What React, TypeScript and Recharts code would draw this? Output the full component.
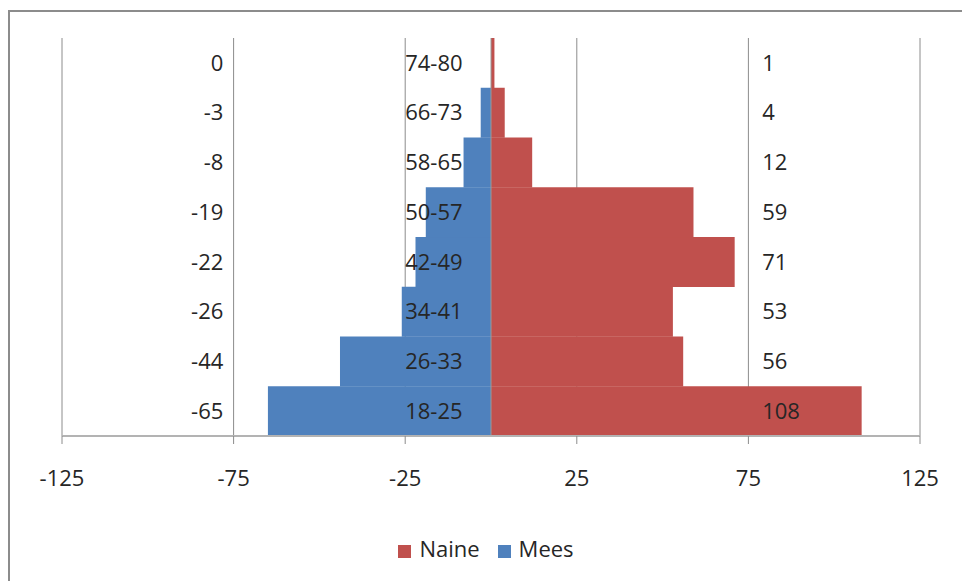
import {
  BarChart,
  Bar,
  XAxis,
  YAxis,
  CartesianGrid,
  Legend,
  ReferenceLine,
  ReferenceDot,
} from "recharts";

const groups = ["18-25", "26-33", "34-41", "42-49", "50-57", "58-65", "66-73", "74-80"];
const naine = [108, 56, 53, 71, 59, 12, 4, 1];
const mees = [-65, -44, -26, -22, -19, -8, -3, 0];
const xTicks = [-125, -75, -25, 25, 75, 125];
const legendOrder = ["Naine", "Mees"];

const data = groups.map((g, i) => ({ group: g, Naine: naine[i], Mees: mees[i] }));

// where the three text columns sit, in axis units
const MEN_COL = -78;
const CAT_COL = -25;
const WOMEN_COL = 79;

const FONT = "'Open Sans', sans-serif";
const TXT = "#262626";

function legendText(value: string) {
  return <span style={{ color: TXT, marginLeft: 4, marginRight: 8 }}>{value}</span>;
}

export default function App() {
  const labelStyle = { fill: TXT, fontSize: 22, fontFamily: FONT };
  return (
    <div
      style={{
        position: "fixed",
        left: 0,
        top: 0,
        width: 962,
        height: 581,
        overflow: "hidden",
        background: "#fff",
      }}
    >
      <div
        style={{
          position: "absolute",
          left: 8,
          top: 10,
          width: 990,
          height: 600,
          border: "2px solid #8c8c8c",
          boxSizing: "border-box",
        }}
      />
      <div style={{ position: "absolute", left: 10, top: 12 }}>
        <BarChart
          width={960}
          height={569}
          data={data}
          layout="vertical"
          stackOffset="sign"
          barCategoryGap={0}
          margin={{ top: 26, right: 50, bottom: 18, left: 52 }}
          style={{ fontFamily: FONT }}
        >
          <CartesianGrid horizontal={false} stroke="#8c8c8c" />
          <XAxis
            type="number"
            domain={[-125, 125]}
            ticks={xTicks}
            interval={0}
            height={97}
            tickSize={8}
            tickMargin={26}
            axisLine={{ stroke: "#b3b3b3", strokeWidth: 2 }}
            tickLine={{ stroke: "#8c8c8c" }}
            tick={{ fill: TXT, fontSize: 22, fontFamily: FONT }}
          />
          <YAxis type="category" dataKey="group" hide reversed />
          <Bar dataKey="Naine" stackId="a" fill="#C0504D" isAnimationActive={false} />
          <Bar dataKey="Mees" stackId="a" fill="#4F81BD" isAnimationActive={false} />
          <ReferenceLine x={0} stroke="#9a9a9a" />
          {groups.map((g, i) => (
            <ReferenceDot
              key={"m" + g}
              x={MEN_COL}
              y={g}
              r={0}
              stroke="none"
              fill="none"
              label={{ value: String(mees[i]), position: "left", offset: 0, ...labelStyle }}
            />
          ))}
          {groups.map((g) => (
            <ReferenceDot
              key={"c" + g}
              x={CAT_COL}
              y={g}
              r={0}
              stroke="none"
              fill="none"
              label={{ value: g, position: "right", offset: 0, ...labelStyle }}
            />
          ))}
          {groups.map((g, i) => (
            <ReferenceDot
              key={"w" + g}
              x={WOMEN_COL}
              y={g}
              r={0}
              stroke="none"
              fill="none"
              label={{ value: String(naine[i]), position: "right", offset: 0, ...labelStyle }}
            />
          ))}
          <Legend
            iconType="square"
            iconSize={13}
            formatter={legendText}
            itemSorter={(item: any) => legendOrder.indexOf(item.value)}
            wrapperStyle={{ fontSize: 22, fontFamily: FONT, lineHeight: "30px", height: 30, left: 56 }}
          />
        </BarChart>
      </div>
    </div>
  );
}
